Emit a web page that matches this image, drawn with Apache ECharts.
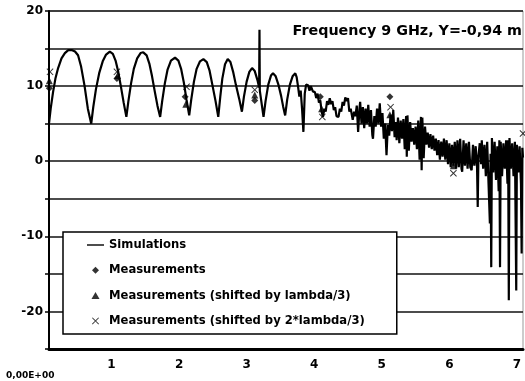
<!DOCTYPE html>
<html>
<head>
<meta charset="utf-8">
<script src="https://cdn.jsdelivr.net/npm/echarts@6/dist/echarts.min.js"></script>
<style>
  html, body { margin: 0; padding: 0; background: #fff; }
  #chart { width: 525px; height: 381px; }
</style>
</head>
<body>
<div id="chart"></div>
<script>
// Field level along the path (dB) at 9 GHz, Y = -0,94 m
const titleText = 'Frequency 9 GHz, Y=-0,94 m';
const xTickValues = [1, 2, 3, 4, 5, 6, 7];
const originLabel = '0,00E+00';
const seriesNames = [
  'Simulations',
  'Measurements',
  'Measurements (shifted by lambda/3)',
  'Measurements (shifted by 2*lambda/3)'
];

// Simulated curve [x, level]
const simulations = [
  [0.075,5.0],[0.10,7.0],[0.135,9.2],[0.17,11.0],[0.21,12.4],[0.26,13.7],[0.31,14.4],[0.36,14.8],[0.41,14.8],[0.46,14.6],[0.505,14.1],[0.55,12.6],[0.60,10.1],[0.65,7.0],[0.70,5.0],
  [0.73,7.2],[0.77,9.6],[0.82,11.8],[0.87,13.3],[0.92,14.2],[0.975,14.6],[1.02,14.3],[1.06,13.4],[1.10,11.9],[1.14,9.9],[1.18,7.8],[1.22,5.9],
  [1.25,8.0],[1.29,10.4],[1.33,12.3],[1.38,13.7],[1.43,14.4],[1.47,14.5],[1.52,14.1],[1.56,13.0],[1.60,11.3],[1.64,9.3],[1.68,7.4],[1.72,5.9],
  [1.75,8.0],[1.79,10.4],[1.83,12.2],[1.88,13.4],[1.94,13.8],[1.99,13.4],[2.03,12.3],[2.07,10.5],[2.11,8.2],[2.15,6.1],
  [2.18,8.2],[2.22,10.6],[2.26,12.3],[2.31,13.3],[2.36,13.6],[2.41,13.2],[2.45,12.1],[2.49,10.3],[2.54,8.0],[2.58,5.9],
  [2.61,8.6],[2.64,11.0],[2.68,12.9],[2.72,13.6],[2.76,13.2],[2.80,11.9],[2.84,10.2],[2.89,8.3],[2.93,6.6],
  [2.96,8.6],[3.00,10.6],[3.04,11.9],[3.08,12.4],[3.12,12.0],[3.16,10.8],[3.185,9.8],[3.19,17.5],[3.195,9.4],[3.22,7.8],[3.25,5.9],
  [3.28,8.0],[3.32,10.2],[3.36,11.4],[3.39,11.7],[3.43,11.3],[3.47,10.2],[3.51,8.7],[3.54,7.3],[3.57,6.1],
  [3.60,8.2],[3.64,10.2],[3.68,11.3],[3.72,11.7],[3.74,11.2],[3.76,10.0],[3.78,8.6],[3.80,9.4],[3.82,7.0],[3.84,3.9],
  [3.86,9.0],[3.88,10.2],[3.91,10.1],[3.93,9.4],[3.95,10.0],[3.98,9.3],[4.01,9.2],[4.03,8.4],[4.05,9.0],[4.07,7.8],[4.09,8.1],[4.11,6.6],[4.13,5.9],[4.15,7.0],[4.17,6.6],[4.19,8.0],[4.21,7.5],[4.23,8.4],[4.25,7.6],[4.27,8.0],[4.29,6.8],[4.31,7.2],[4.33,6.0],[4.36,5.9],[4.38,7.0],[4.40,6.6],[4.42,7.9],[4.44,7.4],[4.46,8.5],[4.48,8.0],[4.50,8.4],[4.52,6.6],[4.54,7.0],[4.57,5.5],[4.59,6.6],[4.61,6.0],[4.63,7.4],[4.65,3.9],[4.67,7.0],[4.68,7.9],[4.70,5.0],[4.72,7.2],[4.74,4.4],[4.76,7.0],[4.78,5.0],[4.80,7.5],[4.82,4.6],[4.84,6.8],[4.86,3.5],[4.87,3.0],[4.89,6.0],[4.91,4.6],[4.93,7.0],[4.95,5.0],[4.97,7.7],[4.99,4.6],[5.01,6.4],[5.03,3.0],[5.05,5.0],[5.07,0.8],[5.09,4.8],[5.11,3.4],[5.13,6.2],[5.15,4.0],[5.17,6.8],[5.19,3.2],[5.21,5.2],[5.22,2.8],
  [5.24,5.8],[5.26,2.4],[5.28,5.4],[5.30,3.0],[5.32,5.6],[5.34,1.6],[5.36,6.0],[5.37,0.6],[5.38,6.1],[5.40,1.4],[5.42,5.2],[5.44,2.6],[5.46,4.4],[5.48,2.2],[5.50,4.6],[5.52,1.6],[5.54,5.4],[5.56,0.2],[5.58,5.9],[5.59,-1.2],[5.60,5.8],[5.62,0.4],[5.64,4.6],[5.66,2.2],[5.68,3.8],[5.70,1.8],[5.72,3.6],[5.74,1.6],
  [5.76,3.4],[5.78,1.4],[5.80,3.0],[5.82,0.8],[5.84,2.8],[5.86,0.2],[5.88,2.6],[5.90,0.6],[5.92,3.0],[5.94,0.2],[5.96,2.8],[5.98,-0.4],
  [6.00,2.4],[6.02,-0.8],[6.04,2.2],[6.06,-0.6],[6.08,2.6],[6.10,-1.0],[6.12,2.8],[6.14,-0.8],[6.16,3.0],[6.18,-1.0],[6.19,-1.4],[6.21,2.8],[6.23,-0.6],[6.25,2.4],[6.27,-1.0],[6.29,2.6],[6.31,-0.8],[6.33,-1.2],[6.35,2.2],[6.37,-0.6],[6.39,2.0],[6.41,-0.8],[6.42,-6.1],[6.43,0.6],[6.45,2.4],[6.47,-0.4],[6.48,2.8],[6.50,-1.0],[6.52,2.2],[6.54,-2.0],[6.56,2.6],[6.58,-3.0],[6.60,-8.3],[6.61,1.0],[6.62,-14.1],[6.63,3.1],[6.65,-1.5],[6.67,2.6],[6.69,-2.5],[6.71,2.0],[6.73,-4.0],[6.74,2.8],[6.75,-14.1],[6.76,2.6],[6.78,-2.0],[6.80,2.4],[6.82,-1.0],[6.84,2.8],[6.86,-3.0],[6.87,2.8],[6.88,-18.5],[6.89,3.1],[6.91,-1.0],[6.93,2.4],[6.95,-2.0],[6.97,2.6],[6.99,-17.2],[7.00,2.2],[7.02,-1.5],[7.04,2.0],[7.06,-3.0],[7.07,-12.3],[7.08,1.8],[7.09,0.5]
];

// Measured levels [x, level]
const measurements = [[0.08,9.7],[1.08,11.0],[2.09,8.6],[3.12,8.1],[4.09,8.6],[5.12,8.6],[6.06,0.2]];
const measShift1 = [[0.08,10.7],[1.09,11.4],[2.10,7.6],[3.12,8.8],[4.11,7.0],[5.12,6.2],[6.06,-0.6]];
const measShift2 = [[0.09,11.9],[1.08,11.9],[2.11,9.9],[3.12,9.5],[4.12,5.9],[5.13,7.2],[6.06,-1.6],[7.09,3.7]];

const FONT = '"DejaVu Sans", "Liberation Sans", Arial, sans-serif';
const crossSymbol = 'path://M1,0 L5,4 L9,0 L10,1 L6,5 L10,9 L9,10 L5,6 L1,10 L0,9 L4,5 L0,1 Z';

// Legend icons drawn inside a 17x7 box so their proportions stay put
const legendIcons = [
  'path://M0,0 M17,7 M0,2.8 L17,2.8 L17,4.2 L0,4.2 Z',
  'path://M0,0 M17,7 M8.5,0 L12,3.5 L8.5,7 L5,3.5 Z',
  'path://M0,0 M17,7 M8.5,0 L12.5,7 L4.5,7 Z',
  'path://M0,0 M17,7 M5.6,0 L8.5,2.9 L11.4,0 L12,0.6 L9.1,3.5 L12,6.4 L11.4,7 L8.5,4.1 L5.6,7 L5,6.4 L7.9,3.5 L5,0.6 Z'
];

const chart = echarts.init(document.getElementById('chart'), null, { renderer: 'canvas' });

chart.setOption({
  animation: false,
  backgroundColor: '#fff',
  title: {
    text: titleText,
    right: 3,
    top: 24,
    padding: 0,
    textStyle: { fontFamily: FONT, fontWeight: 'bold', fontSize: 14.3, color: '#000' }
  },
  grid: {
    left: 49, right: 2, top: 11, bottom: 32,
    show: true, borderColor: '#999', borderWidth: 1, backgroundColor: 'transparent'
  },
  legend: {
    orient: 'vertical',
    left: 63,
    top: 232,
    padding: [6, 32, 6, 24],
    itemWidth: 17,
    itemHeight: 7,
    itemGap: 11.3,
    backgroundColor: '#fff',
    borderColor: '#000',
    borderWidth: 1.5,
    borderRadius: 0,
    textStyle: { fontFamily: FONT, fontWeight: 'bold', fontSize: 11.6, color: '#000', lineHeight: 14 },
    data: seriesNames.map((name, i) => ({ name, icon: legendIcons[i] }))
  },
  xAxis: {
    type: 'value',
    min: 0.075,
    max: 7.09,
    axisLine: { show: true, onZero: false, lineStyle: { color: '#000', width: 3 } },
    axisTick: { show: false },
    splitLine: { show: false },
    axisLabel: {
      customValues: xTickValues,
      margin: 10,
      fontFamily: FONT, fontWeight: 'bold', fontSize: 12, color: '#000'
    }
  },
  yAxis: {
    type: 'value',
    min: -25,
    max: 20,
    interval: 5,
    axisLine: { show: true, lineStyle: { color: '#000', width: 2 } },
    axisTick: { show: true, length: 4, lineStyle: { color: '#000', width: 1.5 } },
    splitLine: { show: true, lineStyle: { color: '#111', width: 1.5 } },
    axisLabel: {
      margin: 6,
      padding: [7, 0, 0, 0],
      fontFamily: FONT, fontWeight: 'bold', fontSize: 12, color: '#000',
      formatter: v => (v % 10 === 0 ? String(v) : '')
    }
  },
  graphic: [{
    type: 'text',
    left: 6,
    top: 371,
    style: { text: originLabel, font: 'bold 9px ' + FONT, fill: '#000' }
  }],
  series: [
    {
      name: seriesNames[0],
      type: 'line',
      data: simulations,
      symbol: 'none',
      lineStyle: { color: '#000', width: 2.2 },
      itemStyle: { color: '#000' },
      z: 3
    },
    {
      name: seriesNames[1],
      type: 'scatter',
      data: measurements,
      symbol: 'diamond',
      symbolSize: 7,
      itemStyle: { color: '#000' },
      z: 4
    },
    {
      name: seriesNames[2],
      type: 'scatter',
      data: measShift1,
      symbol: 'triangle',
      symbolSize: 7,
      itemStyle: { color: '#000' },
      z: 4
    },
    {
      name: seriesNames[3],
      type: 'scatter',
      data: measShift2,
      symbol: crossSymbol,
      symbolSize: 7,
      itemStyle: { color: '#000' },
      z: 4
    }
  ]
});
</script>
</body>
</html>
